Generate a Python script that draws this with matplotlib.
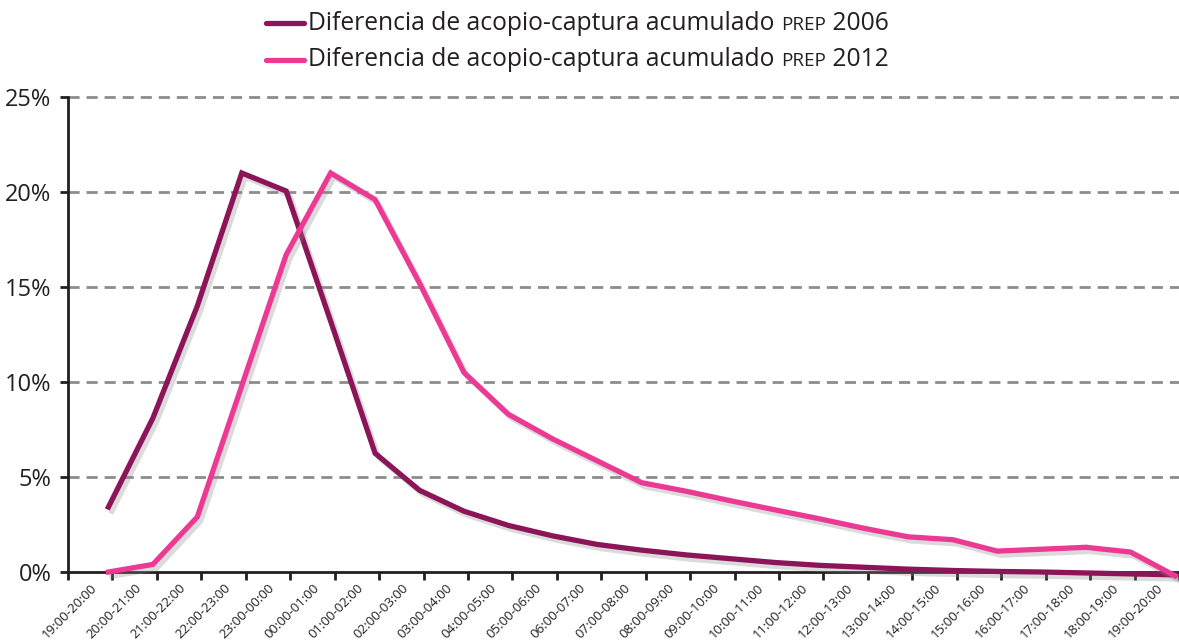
import matplotlib
matplotlib.use("Agg")
import matplotlib.pyplot as plt
import matplotlib.patheffects as pe
from matplotlib.lines import Line2D
from matplotlib.offsetbox import AnchoredOffsetbox, DrawingArea, HPacker, TextArea, VPacker
import numpy as np

plt.rcParams["font.family"] = ["Open Sans", "DejaVu Sans"]

hours = [
    "19:00-20:00", "20:00-21:00", "21:00-22:00", "22:00-23:00", "23:00-00:00",
    "00:00-01:00", "01:00-02:00", "02:00-03:00", "03:00-04:00", "04:00-05:00",
    "05:00-06:00", "06:00-07:00", "07:00-08:00", "08:00-09:00", "09:00-10:00",
    "10:00-11:00", "11:00-12:00", "12:00-13:00", "13:00-14:00", "14:00-15:00",
    "15:00-16:00", "16:00-17:00", "17:00-18:00", "18:00-19:00", "19:00-20:00",
]

# accumulated acopio-captura difference, % (read at end of each hour)
prep_2006 = [3.42, 8.1, 14.0, 21.0, 20.05, 13.2, 6.25, 4.3, 3.2, 2.45,
             1.9, 1.45, 1.15, 0.9, 0.7, 0.5, 0.35, 0.25, 0.15, 0.08,
             0.03, 0.0, -0.05, -0.1, -0.15]
prep_2012 = [0.0, 0.4, 2.9, 9.8, 16.7, 21.0, 19.6, 15.2, 10.5, 8.3,
             7.0, 5.85, 4.7, 4.25, 3.75, 3.27, 2.8, 2.3, 1.85, 1.7,
             1.1, 1.2, 1.3, 1.05, -0.2]

label_main = "Diferencia de acopio-captura acumulado"
label_tags = ["2006", "2012"]
colors = ["#8c1559", "#ec3a94"]

fig = plt.figure(figsize=(11.79, 6.44), dpi=100)
ax = fig.add_axes([68 / 1179, 72 / 644, 1111 / 1179, 475 / 644])

x = np.arange(1, len(hours) + 1) - 0.09
shadow = [pe.SimpleLineShadow(offset=(2.5, -3), shadow_color="#888888", alpha=0.3), pe.Normal()]
for series, c in zip([prep_2006, prep_2012], colors):
    ax.plot(x, series, color=c, lw=3.8, solid_joinstyle="miter", clip_on=False,
            path_effects=shadow, zorder=3)

ax.set_xlim(0, len(hours))
ax.set_ylim(0, 25)
ax.set_yticks(np.arange(0, 26, 5))
ax.set_yticklabels([f"{v}%" for v in range(0, 26, 5)], fontsize=17, color="#231f20")
ax.set_xticks(np.arange(0, len(hours) + 1))
ax.set_xticklabels([])
ax.set_xticks(np.arange(len(hours)) + 0.5, minor=True)
ax.set_xticklabels(hours, minor=True, rotation=45, ha="right", va="top",
                   rotation_mode="anchor", fontsize=9.5, color="#231f20")
ax.tick_params(axis="x", which="minor", length=0, pad=7)
ax.tick_params(axis="x", which="major", length=6, width=2, color="#231f20", direction="out")
ax.tick_params(axis="y", length=6, width=2, color="#231f20", direction="out", pad=6)

for v in range(5, 26, 5):
    ax.axhline(v, color="#8c8c8c", lw=2, ls=(0, (4, 2.5)), zorder=1, clip_on=False)

for side in ["top", "right"]:
    ax.spines[side].set_visible(False)
for side in ["left", "bottom"]:
    ax.spines[side].set_linewidth(2)
    ax.spines[side].set_color("#231f20")

# legend with small-caps PREP
rows = []
for tag, c in zip(label_tags, colors):
    da = DrawingArea(30, 8, 0, 0)
    da.add_artist(Line2D([1.5, 28.5], [4, 4], color=c, lw=3.8, solid_capstyle="round"))
    words = HPacker(children=[
        TextArea(label_main + "\u00a0", textprops=dict(fontsize=17.7, color="#231f20")),
        TextArea("PREP", textprops=dict(fontsize=13.6, color="#231f20")),
        TextArea("\u00a0" + tag, textprops=dict(fontsize=17.7, color="#231f20")),
    ], align="baseline", pad=0, sep=0)
    rows.append(HPacker(children=[da, words], align="center", pad=0, sep=2))
box = VPacker(children=rows, align="left", pad=0, sep=8)
anchored = AnchoredOffsetbox(loc="upper left", child=box, pad=0, frameon=False,
                             bbox_to_anchor=(264 / 1179, 1 - 11 / 644),
                             bbox_transform=fig.transFigure, borderpad=0)
fig.add_artist(anchored)

fig.savefig("out.png", dpi=100)
